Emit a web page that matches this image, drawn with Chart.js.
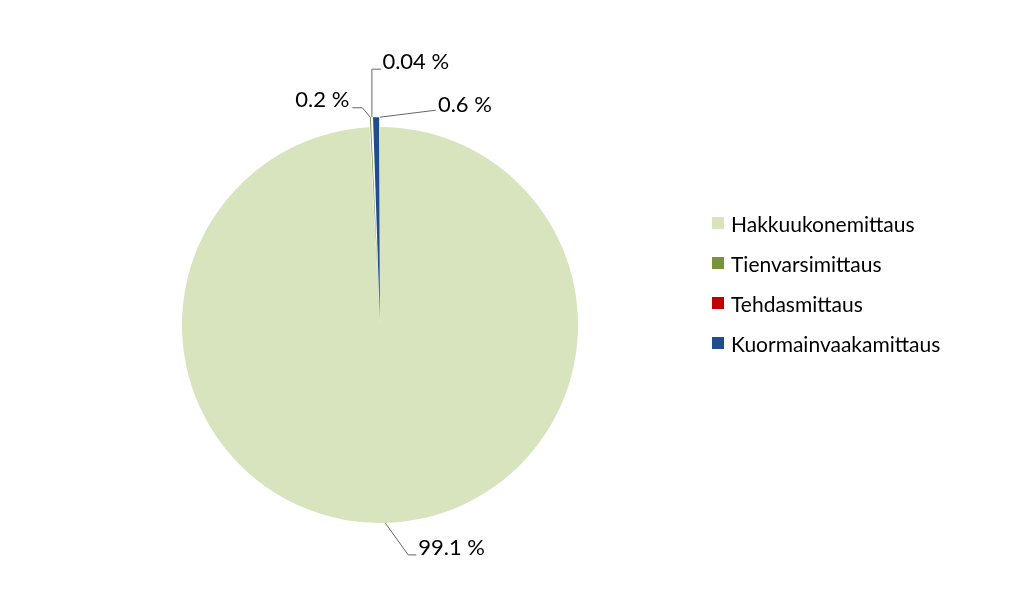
<!DOCTYPE html>
<html>
<head>
<meta charset="utf-8">
<script src="https://cdn.jsdelivr.net/npm/chart.js@4.4.1/dist/chart.umd.min.js"></script>
<style>
  html, body { margin: 0; padding: 0; background: #fff; }
  #wrap { position: relative; width: 1024px; height: 599px; }
  #legend { position: absolute; left: 712px; top: 203px; list-style: none; margin: 0; padding: 0;
    font-family: Lato, "Open Sans", sans-serif; font-size: 21px; color: #000; }
  #legend li { height: 40px; display: flex; align-items: center; }
  #legend .box { width: 12px; height: 12px; margin-right: 7px; display: inline-block; }
</style>
</head>
<body>
<div id="wrap">
  <canvas id="pie"></canvas>
  <ul id="legend"></ul>
</div>
<script>
const categories = ['Hakkuukonemittaus', 'Tienvarsimittaus', 'Tehdasmittaus', 'Kuormainvaakamittaus'];
const shares = [99.1, 0.2, 0.04, 0.6];
const colors = ['#d7e4bd', '#77933c', '#c00000', '#1f4e8f'];

// where each callout goes, relative to its anchor on the slice edge
const callouts = [
  { at: 'mid', path: [[23, 32], [31, 32]], text: [33, 32], align: 'left' },
  { at: 'mid', path: [[-8, -9.5], [-18, -9.5]], text: [-21, -10], align: 'right' },
  { at: 'mid', path: [[0, -48], [9, -48]], text: [10.5, -48], align: 'left' },
  { at: 'end', path: [[56, -7]], text: [58, -5], align: 'left' }
];

const calloutPlugin = {
  id: 'callouts',
  afterDatasetsDraw(chart) {
    const ctx = chart.ctx;
    const meta = chart.getDatasetMeta(0);
    ctx.save();
    meta.data.forEach((arc, i) => {
      const c = callouts[i];
      const p = arc.getProps(['x', 'y', 'startAngle', 'endAngle', 'outerRadius']);
      // same shift Chart.js applies when drawing an offset arc
      const off = (arc.options.offset || 0) / 4;
      const fix = 1 - Math.sin(Math.min(Math.PI, p.endAngle - p.startAngle));
      const mid = (p.startAngle + p.endAngle) / 2;
      const ang = c.at === 'end' ? p.endAngle : mid;
      const r = p.outerRadius + off * fix;
      const ox = p.x + Math.cos(mid) * off;
      const oy = p.y + Math.sin(mid) * off;
      const ax = ox + Math.cos(ang) * r;
      const ay = oy + Math.sin(ang) * r;

      ctx.strokeStyle = '#666';
      ctx.lineWidth = 1;
      ctx.beginPath();
      ctx.moveTo(ax, ay);
      c.path.forEach(([dx, dy]) => ctx.lineTo(ax + dx, ay + dy));
      ctx.stroke();

      ctx.fillStyle = '#000';
      ctx.font = '22px Lato, "Open Sans", sans-serif';
      ctx.textAlign = c.align;
      ctx.textBaseline = 'alphabetic';
      ctx.fillText(shares[i] + ' %', ax + c.text[0], ay + c.text[1]);
    });
    ctx.restore();
  }
};

new Chart(document.getElementById('pie'), {
  type: 'pie',
  data: {
    labels: categories,
    datasets: [{
      data: shares,
      backgroundColor: colors,
      borderWidth: 0,
      offset: [0, 20, 20, 20],
      radius: 198
    }]
  },
  options: {
    responsive: true,
    maintainAspectRatio: false,
    animation: false,
    layout: { padding: { left: 0, right: 264, top: 51, bottom: 0 } },
    plugins: {
      legend: { display: false },
      tooltip: { enabled: false }
    }
  },
  plugins: [calloutPlugin]
});

const legend = document.getElementById('legend');
categories.forEach((name, i) => {
  const li = document.createElement('li');
  li.innerHTML = `<span class="box" style="background:${colors[i]}"></span>${name}`;
  legend.appendChild(li);
});
</script>
</body>
</html>
